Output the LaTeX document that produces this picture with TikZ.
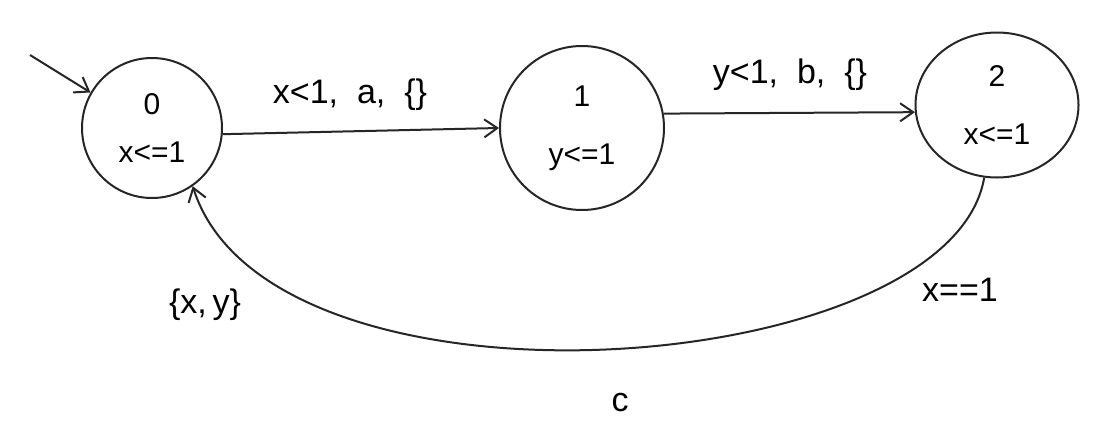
\documentclass[tikz,border=0pt]{standalone}
\usepackage{fontspec}
\setmainfont{Liberation Sans}
\usetikzlibrary{arrows.meta,shapes.geometric}
\begin{document}
\begin{tikzpicture}[x=1pt,y=-1pt,
  ink/.style={draw=black!85, line width=2pt},
  state/.style={ink, circle, inner sep=0pt, align=center, font=\fontsize{30}{32}\selectfont},
  lbl/.style={font=\fontsize{34}{36}\selectfont, inner sep=2pt},
  arr/.style={ink, -{Straight Barb[length=13pt,width=18pt]}}]
\fill[white] (0,0) rectangle (1110,434);
\useasboundingbox (0,0) rectangle (1110,434);
\node[state, minimum size=140pt] (s0) at (152,128) {0\\[16pt]x<=1};
\node[state, minimum size=164pt] (s1) at (582,128) {1\\[26pt]y<=1};
\node[state, ellipse, minimum width=163pt, minimum height=145pt] (s2) at (997,105) {2\\[26pt]x<=1};
\coordinate (init) at (30,55);
\draw[arr] (init) -- (s0.150);
\draw[arr] (s0.-5) -- (s1.west);
\node[lbl] (l01) at (350,95) {x<1,\ \ a,\ \ \{\}};
\draw[arr] (s1.10) -- (s2.185);
\node[lbl] (l12) at (790,75) {y<1,\ \ b,\ \ \{\}};
\draw[arr] (s2.-100) .. controls (950,380) and (270,430) .. (s0.-55);
\node[lbl] (g20) at (960,290) {x==1};
\node[lbl] (r20) at (205,305) {\{x,\,y\}};
\node[lbl] (a20) at (620,403) {c};
\end{tikzpicture}
\end{document}
